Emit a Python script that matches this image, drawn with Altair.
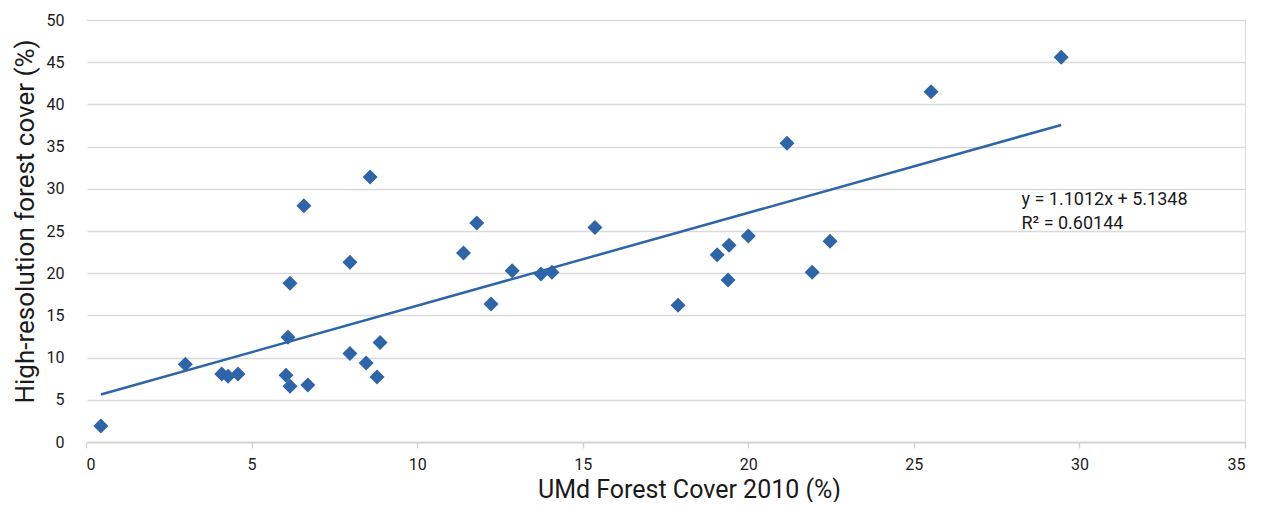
import altair as alt
import pandas as pd

umd = [0.45, 3.0, 4.1, 4.29, 4.59, 6.04, 6.16, 6.7, 6.1, 6.16, 6.58, 7.97, 7.97, 8.46, 8.79, 8.88, 8.58,
       11.4, 11.8, 12.23, 12.87, 13.74, 14.07, 15.37, 17.88, 19.06, 19.42, 19.39, 20.0, 21.93, 22.47,
       21.17, 25.52, 29.45]
hires = [1.9, 9.2, 8.05, 7.8, 8.05, 7.9, 6.6, 6.75, 12.4, 18.8, 28.0, 10.5, 21.3, 9.36, 7.7, 11.8, 31.4,
         22.4, 25.95, 16.35, 20.3, 19.9, 20.1, 25.4, 16.2, 22.2, 23.3, 19.2, 24.4, 20.1, 23.8,
         35.4, 41.5, 45.6]

slope = 1.1012
intercept = 5.1348
eq_lines = ["y = 1.1012x + 5.1348", "R\u00b2 = 0.60144"]
eq_x = [28.25, 28.25]
eq_y = [28.7, 25.85]

x_ticks = [0, 5, 10, 15, 20, 25, 30, 35]
y_ticks = [0, 5, 10, 15, 20, 25, 30, 35, 40, 45, 50]

BLUE = "#2e65a8"
FONT = "Roboto, Liberation Sans, sans-serif"
TXT = "#1a1a1a"

df = pd.DataFrame({"umd": umd, "hires": hires})
trend = pd.DataFrame({"umd": [min(umd), max(umd)]})
trend["hires"] = slope * trend["umd"] + intercept
ann = pd.DataFrame({"umd": eq_x, "hires": eq_y, "label": eq_lines})

xs = alt.Scale(domain=[0, 35], nice=False, zero=False)
ys = alt.Scale(domain=[0, 50], nice=False, zero=False)

x_axis = alt.Axis(values=x_ticks, title="UMd Forest Cover 2010 (%)", grid=False,
                  domain=True, domainColor="#d0d0d0", domainWidth=1.3, ticks=True, tickColor="#d0d0d0",
                  tickSize=6, tickWidth=1.3,
                  labelFont=FONT, labelFontSize=16, labelColor=TXT, labelPadding=8,
                  titleFont=FONT, titleFontSize=25, titleFontWeight="normal", titleColor=TXT,
                  titleBaseline="alphabetic", titleAlign="center", titleX=603, titleY=55)
y_axis = alt.Axis(values=y_ticks, title="High-resolution forest cover (%)", grid=True,
                  gridColor="#d9d9d9", gridWidth=1.3, domain=True, domainColor="white", domainWidth=2,
                  ticks=False,
                  labelFont=FONT, labelFontSize=16, labelColor=TXT, labelPadding=22,
                  titleFont=FONT, titleFontSize=26, titleFontWeight="normal", titleColor=TXT,
                  titleBaseline="middle", titleAlign="center", titleX=-61, titleY=201)

X = alt.X("umd:Q", scale=xs, axis=x_axis)
Y = alt.Y("hires:Q", scale=ys, axis=y_axis)

line = alt.Chart(trend).mark_line(color=BLUE, strokeWidth=2.5).encode(x=X, y=Y)

points = alt.Chart(df).mark_point(shape="diamond", filled=True, size=225, color=BLUE, opacity=1,
                                  strokeWidth=0).encode(x=X, y=Y)

text = alt.Chart(ann).mark_text(align="left", baseline="middle", font=FONT, fontSize=18, color=TXT).encode(
    x=X, y=Y, text="label:N",
)

chart = (
    alt.layer(line, points, text)
    .properties(
        width=1159, height=422,
        autosize=alt.AutoSizeParams(type="none"),
        padding={"left": 78, "top": 12, "right": 10, "bottom": 60},
    )
    .configure_view(strokeWidth=0)
    .configure(background="white")
)

chart.save("out.html", embed_options={"renderer": "svg", "actions": False})
